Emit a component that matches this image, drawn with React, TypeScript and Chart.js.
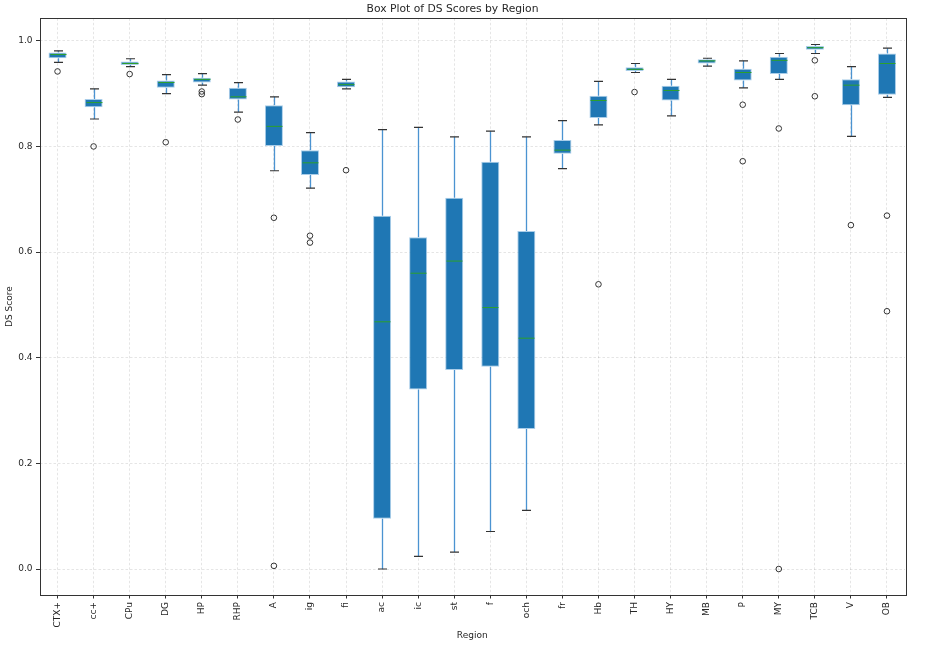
import React, { useEffect, useRef } from "react";
import { Chart, registerables } from "chart.js";

Chart.register(...registerables);

const categories = ["CTX+", "cc+", "CPu", "DG", "HP", "RHP", "A", "ig", "fi", "ac", "ic", "st", "f", "och", "fr", "Hb", "TH", "HY", "MB", "P", "MY", "TCB", "V", "OB"];

const whiskerHigh = [0.981, 0.909, 0.966, 0.936, 0.938, 0.921, 0.894, 0.826, 0.927, 0.832, 0.836, 0.818, 0.829, 0.818, 0.849, 0.923, 0.957, 0.927, 0.967, 0.962, 0.976, 0.993, 0.951, 0.986];
const q3 = [0.978, 0.890, 0.961, 0.925, 0.930, 0.911, 0.878, 0.793, 0.923, 0.669, 0.628, 0.703, 0.771, 0.640, 0.812, 0.896, 0.950, 0.915, 0.965, 0.947, 0.970, 0.990, 0.927, 0.976];
const median = [0.974, 0.883, 0.957, 0.921, 0.927, 0.894, 0.838, 0.769, 0.917, 0.468, 0.560, 0.583, 0.495, 0.437, 0.793, 0.887, 0.946, 0.906, 0.962, 0.940, 0.963, 0.987, 0.916, 0.957];
const q1 = [0.967, 0.874, 0.954, 0.911, 0.921, 0.889, 0.801, 0.746, 0.912, 0.095, 0.340, 0.377, 0.383, 0.265, 0.786, 0.854, 0.943, 0.887, 0.957, 0.925, 0.937, 0.983, 0.878, 0.898];
const whiskerLow = [0.959, 0.852, 0.951, 0.900, 0.916, 0.865, 0.754, 0.721, 0.909, 0.000, 0.024, 0.032, 0.071, 0.111, 0.758, 0.841, 0.940, 0.858, 0.952, 0.911, 0.927, 0.976, 0.819, 0.893];

const outlierRegions = ["CTX+", "cc+", "CPu", "DG", "HP", "HP", "RHP", "A", "A", "ig", "ig", "fi", "Hb", "TH", "P", "P", "MY", "MY", "TCB", "TCB", "V", "OB", "OB"];
const outlierValues = [0.942, 0.800, 0.937, 0.808, 0.904, 0.899, 0.851, 0.665, 0.006, 0.631, 0.618, 0.755, 0.539, 0.903, 0.879, 0.772, 0.834, 0.000, 0.963, 0.895, 0.651, 0.669, 0.488];

const yTickValues = [0.0, 0.2, 0.4, 0.6, 0.8, 1.0];

const FONT = "'DejaVu Sans', sans-serif";
const TEXT = "#262626";

const boxPlotPlugin = {
  id: "boxPlotParts",
  beforeDatasetsDraw(chart: any) {
    const { ctx, scales } = chart;
    const xs = scales.x, ys = scales.y;
    ctx.save();
    ctx.strokeStyle = "#4b93d1";
    ctx.lineWidth = 1.3;
    categories.forEach((_, i) => {
      const x = Math.round(xs.getPixelForValue(i)) + 0.5;
      ctx.beginPath();
      ctx.moveTo(x, ys.getPixelForValue(q3[i]));
      ctx.lineTo(x, ys.getPixelForValue(whiskerHigh[i]));
      ctx.moveTo(x, ys.getPixelForValue(q1[i]));
      ctx.lineTo(x, ys.getPixelForValue(whiskerLow[i]));
      ctx.stroke();
    });
    ctx.restore();
  },
  afterDatasetsDraw(chart: any) {
    const { ctx, scales, chartArea } = chart;
    const xs = scales.x, ys = scales.y;
    const unit = xs.getPixelForValue(1) - xs.getPixelForValue(0);
    ctx.save();
    categories.forEach((_, i) => {
      const x = Math.round(xs.getPixelForValue(i)) + 0.5;
      const capHalf = unit * 0.125;
      ctx.strokeStyle = "#333333";
      ctx.lineWidth = 1.2;
      ctx.beginPath();
      [whiskerHigh[i], whiskerLow[i]].forEach((v) => {
        const y = ys.getPixelForValue(v);
        ctx.moveTo(x - capHalf, y);
        ctx.lineTo(x + capHalf, y);
      });
      ctx.stroke();
      const boxHalf = unit * 0.25 - 1;
      ctx.strokeStyle = "#2ca02c";
      ctx.lineWidth = 1;
      ctx.beginPath();
      const ym = ys.getPixelForValue(median[i]);
      ctx.moveTo(x - boxHalf, ym);
      ctx.lineTo(x + boxHalf, ym);
      ctx.stroke();
    });
    ctx.strokeStyle = "#333333";
    ctx.lineWidth = 1;
    ctx.strokeRect(
      Math.round(chartArea.left) + 0.5,
      Math.round(chartArea.top) + 0.5,
      Math.round(chartArea.right - chartArea.left),
      Math.round(chartArea.bottom - chartArea.top)
    );
    ctx.restore();
  },
};

export default function App() {
  const ref = useRef<HTMLCanvasElement | null>(null);
  useEffect(() => {
    document.body.style.margin = "0";
    const canvas = ref.current;
    if (!canvas) return;
    const chart = new Chart(canvas, {
      type: "bar",
      data: {
        labels: categories,
        datasets: [
          {
            type: "bar",
            label: "box",
            data: categories.map((_, i) => [q1[i], q3[i]]) as any,
            backgroundColor: "#1f77b4",
            borderColor: "#a9cde9",
            borderWidth: 1,
            borderSkipped: false,
            barPercentage: 0.5,
            categoryPercentage: 1,
            order: 2,
          } as any,
          {
            type: "scatter",
            label: "outliers",
            data: outlierRegions.map((r, i) => ({ x: r, y: outlierValues[i] })) as any,
            showLine: false,
            pointStyle: "circle",
            pointRadius: 2.8,
            pointBackgroundColor: "rgba(0,0,0,0)",
            pointBorderColor: "#333333",
            pointBorderWidth: 1,
            order: 1,
          } as any,
        ],
      },
      options: {
        responsive: false,
        animation: false,
        layout: { padding: { left: 0, right: 32, top: 0, bottom: 0 } },
        plugins: {
          legend: { display: false },
          tooltip: { enabled: false },
          title: {
            display: true,
            text: "Box Plot of DS Scores by Region",
            color: TEXT,
            font: { family: FONT, size: 10.75, weight: "normal" },
            padding: { top: 2.7, bottom: 2.7 },
          },
        },
        scales: {
          x: {
            type: "category",
            offset: true,
            afterFit(scale: any) {
              scale.height = 51;
              scale.paddingLeft = 0;
              scale.paddingRight = 0;
            },
            grid: {
              display: true,
              offset: false,
              color: "rgba(0,0,0,0.13)",
              lineWidth: 0.8,
              drawTicks: true,
              tickLength: 3.5,
              tickColor: "#333333",
              tickWidth: 1,
              tickBorderDash: [],
            },
            border: { display: false, dash: [2.5, 2] },
            ticks: {
              autoSkip: false,
              maxRotation: 90,
              minRotation: 90,
              padding: 3.5,
              color: TEXT,
              font: { family: FONT, size: 9 },
            },
            title: {
              display: true,
              text: "Region",
              color: TEXT,
              font: { family: FONT, size: 9 },
              padding: { top: 0, bottom: 4.6 },
            },
          },
          y: {
            type: "linear",
            min: -0.0492,
            max: 1.0426,
            afterFit(scale: any) {
              scale.width = 39.5;
              scale.paddingTop = 0;
              scale.paddingBottom = 0;
            },
            afterBuildTicks(scale: any) {
              scale.ticks = yTickValues.map((v) => ({ value: v }));
            },
            grid: {
              display: true,
              color: "rgba(0,0,0,0.13)",
              lineWidth: 0.8,
              drawTicks: true,
              tickLength: 3.5,
              tickColor: "#333333",
              tickWidth: 1,
              tickBorderDash: [],
            },
            border: { display: false, dash: [2.5, 2] },
            ticks: {
              includeBounds: false,
              padding: 3.5,
              color: TEXT,
              font: { family: FONT, size: 9 },
              callback: (v: any) => Number(v).toFixed(1),
            },
            title: {
              display: true,
              text: "DS Score",
              color: TEXT,
              font: { family: FONT, size: 9 },
              padding: { top: 4.6, bottom: 0 },
            },
          },
        },
      } as any,
      plugins: [boxPlotPlugin],
    });
    return () => chart.destroy();
  }, []);
  return (
    <div style={{ width: 937, height: 646, background: "#ffffff" }}>
      <canvas ref={ref} width={937} height={646} style={{ display: "block", width: 937, height: 646 }} />
    </div>
  );
}
